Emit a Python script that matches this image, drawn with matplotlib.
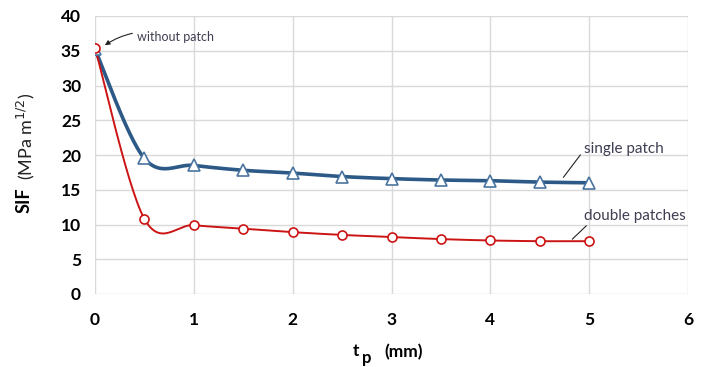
import matplotlib
matplotlib.use("Agg")
import matplotlib.pyplot as plt
import numpy as np

plt.rcParams['font.family'] = ['Lato', 'DejaVu Sans']

# values
tp = [0, 0.5, 1, 1.5, 2, 2.5, 3, 3.5, 4, 4.5, 5]
single_patch = [35.2, 19.5, 18.5, 17.8, 17.4, 16.9, 16.6, 16.4, 16.3, 16.1, 16.0]
double_patches = [35.4, 10.8, 9.9, 9.4, 8.9, 8.5, 8.2, 7.9, 7.7, 7.6, 7.6]
x_ticks = [0, 1, 2, 3, 4, 5, 6]
y_ticks = [0, 5, 10, 15, 20, 25, 30, 35, 40]


def smooth(x, y, n=30):
    # catmull-rom style smoothing, like a spreadsheet "smoothed line"
    x = np.asarray(x, float)
    y = np.asarray(y, float)
    px = np.concatenate([[x[0]], x, [x[-1]]])
    py = np.concatenate([[y[0]], y, [y[-1]]])
    xs, ys = [], []
    t = np.linspace(0, 1, n)
    for i in range(1, len(px) - 2):
        p0 = np.array([px[i], py[i]])
        p1 = np.array([px[i + 1], py[i + 1]])
        c0 = p0 + (np.array([px[i + 1], py[i + 1]]) - np.array([px[i - 1], py[i - 1]])) / 6
        c1 = p1 - (np.array([px[i + 2], py[i + 2]]) - p0) / 6
        b = ((1 - t) ** 3)[:, None] * p0 + (3 * (1 - t) ** 2 * t)[:, None] * c0 \
            + (3 * (1 - t) * t ** 2)[:, None] * c1 + (t ** 3)[:, None] * p1
        xs.extend(b[:, 0])
        ys.extend(b[:, 1])
    return xs, ys


W, H = 707, 367
fig = plt.figure(figsize=(W / 100, H / 100), dpi=100)
ax = fig.add_axes([95 / W, 1 - 294 / H, (688 - 95) / W, (294 - 16) / H])

blue = "#2D5987"
red = "#CC1414"
note = "#3E3E52"

sx, sy = smooth(tp, single_patch)
ax.plot(sx, sy, color=blue, lw=2.6, zorder=3)
ax.plot(tp, single_patch, ls="none", marker="^", ms=8, mfc="white",
        mec="#4A74A0", mew=1.2, zorder=4)

dx, dy = smooth(tp, double_patches)
ax.plot(dx, dy, color=red, lw=1.4, zorder=3)
ax.plot(tp, double_patches, ls="none", marker="o", ms=6.5, mfc="white",
        mec=red, mew=1.2, zorder=4)

ax.set_xlim(0, 6)
ax.set_ylim(0, 40)
ax.set_xticks(x_ticks)
ax.set_yticks(y_ticks)
ax.grid(True, color="#D9D9D9", lw=1)
ax.set_axisbelow(True)
for s in ax.spines.values():
    s.set_visible(False)
ax.tick_params(length=0, labelsize=12.5)
ax.tick_params(axis="x", pad=13)
ax.tick_params(axis="y", pad=10)
for lab in ax.get_xticklabels() + ax.get_yticklabels():
    lab.set_fontweight("bold")

# annotations
ax.annotate("without patch", xy=(0.10, 35.8), xytext=(0.42, 37.0),
            fontsize=9, color=note, va="center",
            arrowprops=dict(arrowstyle="-|>", color="#222222", lw=0.8,
                            mutation_scale=7, connectionstyle="arc3,rad=0.25",
                            shrinkA=1, shrinkB=0))
ax.text(4.95, 20.9, "single patch", fontsize=11, color=note, va="center")
ax.plot([4.74, 4.91], [16.8, 20.0], color="#222222", lw=0.8)
ax.text(4.95, 11.2, "double patches", fontsize=11, color=note, va="center")
ax.plot([4.83, 4.97], [7.9, 9.8], color="#222222", lw=0.8)

# axis titles
fig.text(24 / W, 1 - 213 / H, "SIF", rotation=90, fontsize=13,
         fontweight="bold", ha="center", va="bottom")
fig.text(26 / W, 1 - 180 / H, "(MPa m$^{1/2}$)", rotation=90, fontsize=13,
         ha="center", va="bottom", color="#222222")
fig.text(353 / W, 1 - 351 / H, "t", fontsize=12.5, fontweight="bold",
         ha="left", va="center")
fig.text(362 / W, 1 - 358 / H, "p", fontsize=12, fontweight="bold",
         ha="left", va="center")
fig.text(384 / W, 1 - 352 / H, "(mm)", fontsize=12.5, fontweight="bold",
         ha="left", va="center")

fig.savefig("out.png", dpi=100)
